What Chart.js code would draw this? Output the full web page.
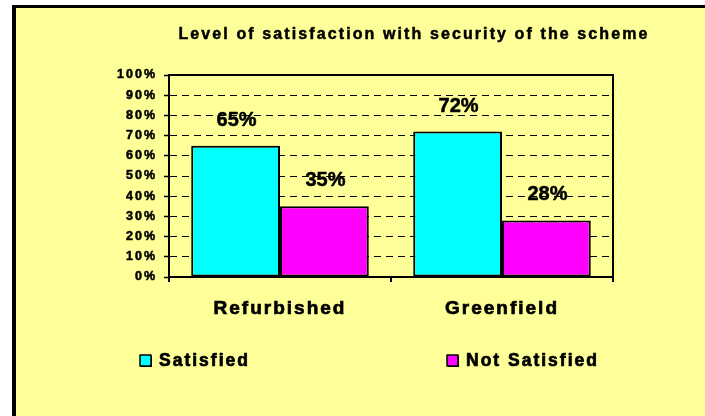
<!DOCTYPE html>
<html>
<head>
<meta charset="utf-8">
<script src="https://cdn.jsdelivr.net/npm/chart.js@4.4.1/dist/chart.umd.min.js"></script>
<style>
  html, body { margin: 0; padding: 0; background: #ffffff; }
  #wrap { width: 705px; height: 416px; }
</style>
</head>
<body>
<div id="wrap"><canvas id="myChart" width="705" height="416"></canvas></div>
<script>
// chart values
var chartTitle = 'Level of satisfaction with security of the scheme';
var categories = ['Refurbished', 'Greenfield'];
var seriesNames = ['Satisfied', 'Not Satisfied'];
var satisfied = [65, 72];
var notSatisfied = [35, 28];
var seriesColors = ['#00FFFF', '#FF00FF'];

var FONT = "Arial, 'Liberation Sans', sans-serif";
Chart.defaults.font.family = FONT;
Chart.defaults.color = '#000000';

// draw text a little heavier, like the old GDI bold
function boldText(ctx, text, x, y, w) {
    ctx.lineWidth = w;
    ctx.strokeStyle = '#000000';
    ctx.lineJoin = 'round';
    ctx.strokeText(text, x, y);
    ctx.fillText(text, x, y);
}

// background, frame, title, data labels and legend
var decorPlugin = {
    id: 'decor',
    beforeDraw: function(chart) {
        var ctx = chart.ctx;
        ctx.save();
        ctx.fillStyle = '#ffffff';
        ctx.fillRect(0, 0, chart.width, chart.height);
        ctx.fillStyle = '#FFFF99';
        ctx.fillRect(12, 5, chart.width - 12, chart.height - 5);
        ctx.fillStyle = '#000000';
        ctx.fillRect(12, 5, chart.width - 12, 3);
        ctx.fillRect(12, 5, 4, chart.height - 5);
        ctx.restore();
        // spacing used by the axis labels
        ctx.letterSpacing = '2px';
    },
    afterDatasetsDraw: function(chart) {
        var ctx = chart.ctx;
        ctx.save();
        ctx.letterSpacing = '0px';
        ctx.font = 'bold 20px ' + FONT;
        ctx.fillStyle = '#000000';
        ctx.textAlign = 'center';
        ctx.textBaseline = 'middle';
        chart.data.datasets.forEach(function(ds, i) {
            chart.getDatasetMeta(i).data.forEach(function(bar, j) {
                boldText(ctx, ds.data[j] + '%', bar.x + 1, bar.y - 25.5, 0.5);
            });
        });
        ctx.restore();
    },
    afterDraw: function(chart) {
        var ctx = chart.ctx;
        var a = chart.chartArea;
        ctx.save();
        ctx.strokeStyle = '#000000';
        ctx.lineWidth = 2;
        ctx.strokeRect(a.left, a.top, a.right - a.left, a.bottom - a.top);

        // title
        ctx.letterSpacing = '2.1px';
        ctx.fillStyle = '#000000';
        ctx.font = 'bold 16px ' + FONT;
        ctx.textAlign = 'center';
        ctx.textBaseline = 'middle';
        boldText(ctx, chartTitle, 414, 35, 0.5);

        // legend
        var legendX = [140, 447];
        ctx.letterSpacing = '2px';
        ctx.font = 'bold 17.5px ' + FONT;
        ctx.textAlign = 'left';
        chart.data.datasets.forEach(function(ds, i) {
            var x = legendX[i];
            ctx.fillStyle = '#000000';
            ctx.fillRect(x + 1, 356, 11, 11);
            ctx.fillStyle = ds.backgroundColor;
            ctx.fillRect(x, 355, 11, 11);
            ctx.lineWidth = 1.5;
            ctx.strokeStyle = '#000000';
            ctx.strokeRect(x, 355, 11, 11);
            ctx.fillStyle = '#000000';
            boldText(ctx, ds.label, x + 19, 361, 0.7);
        });
        ctx.restore();
    }
};

var ctx = document.getElementById('myChart').getContext('2d');

var myBarChart = new Chart(ctx, {
    type: 'bar',
    data: {
        labels: categories,
        datasets: [
            {
                label: seriesNames[0],
                data: satisfied,
                backgroundColor: seriesColors[0],
                borderColor: '#000000',
                borderWidth: 2,
                borderSkipped: false,
            },
            {
                label: seriesNames[1],
                data: notSatisfied,
                backgroundColor: seriesColors[1],
                borderColor: '#000000',
                borderWidth: 2,
                borderSkipped: false,
            },
        ],
    },
    options: {
        responsive: false,
        animation: false,
        categoryPercentage: 0.8,
        barPercentage: 1.0,
        layout: {
            padding: { left: 20, right: 92, top: 75, bottom: 99 },
        },
        plugins: {
            legend: { display: false },
            title: { display: false },
            tooltip: { enabled: false },
        },
        scales: {
            x: {
                offset: true,
                grid: {
                    display: true,
                    offset: true,
                    drawOnChartArea: false,
                    drawTicks: true,
                    tickLength: 5,
                    color: '#000000',
                    lineWidth: 2,
                },
                border: { display: true, color: '#000000', width: 2 },
                ticks: {
                    padding: 15,
                    maxRotation: 0,
                    autoSkip: false,
                    font: { size: 19, weight: 'bold' },
                    color: '#000000',
                    textStrokeColor: '#000000',
                    textStrokeWidth: 0.7,
                },
                afterFit: function(scale) { scale.height = 40; },
            },
            y: {
                min: 0,
                max: 100,
                grid: {
                    color: '#000000',
                    lineWidth: 1,
                    drawTicks: true,
                    tickLength: 5,
                    tickColor: '#000000',
                    tickWidth: 1.5,
                    tickBorderDash: [],
                },
                border: { display: true, color: '#000000', width: 2, dash: [7, 5] },
                ticks: {
                    stepSize: 10,
                    padding: 7,
                    font: { size: 12.5, weight: 'bold' },
                    color: '#000000',
                    textStrokeColor: '#000000',
                    textStrokeWidth: 0.5,
                    callback: function(value) { return value + '%'; },
                },
                afterFit: function(scale) { scale.width = 149; },
            },
        },
    },
    plugins: [decorPlugin],
});
</script>
</body>
</html>
